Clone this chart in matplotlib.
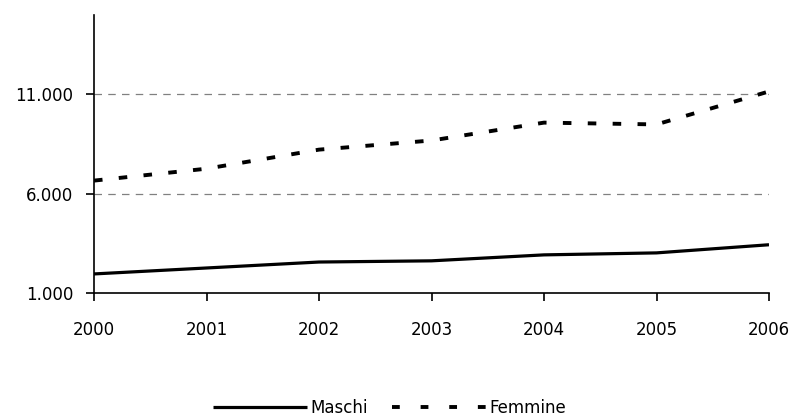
import numpy as np
import matplotlib.pyplot as plt

years = ["2000", "2001", "2002", "2003", "2004", "2005", "2006"]
maschi = [1960, 2260, 2560, 2620, 2920, 3020, 3430]
femmine = [6660, 7260, 8220, 8680, 9580, 9490, 11150]
y_ticks = [1000, 6000, 11000]
y_labels = ["1.000", "6.000", "11.000"]

plt.rcParams['font.family'] = ['DejaVu Sans']

fig = plt.figure(figsize=(7.95, 4.18), dpi=100)
ax = fig.add_axes([94 / 795, 1 - 293 / 418, (769 - 94) / 795, (293 - 15) / 418])

x = np.arange(len(years))
ax.plot(x, maschi, color="black", lw=2.3, solid_capstyle="butt", label="Maschi", zorder=3)
ax.plot(x, femmine, color="black", lw=2.8, linestyle=(0, (2.2, 4.2)),
        dash_capstyle="butt", label="Femmine", zorder=3)

# dashed gridlines
for v in y_ticks[1:]:
    ax.axhline(v, color="#808080", lw=0.9, linestyle=(0, (6, 5)), zorder=1)

ax.set_xlim(0, 6)
ax.set_ylim(1000, 15000)
ax.set_xticks(x)
ax.set_xticklabels(years)
ax.set_yticks(y_ticks)
ax.set_yticklabels(y_labels)

for s in ["top", "right"]:
    ax.spines[s].set_visible(False)
for s in ["left", "bottom"]:
    ax.spines[s].set_linewidth(1.2)

ax.tick_params(axis="x", direction="out", length=6, width=1.2, pad=14, labelsize=12)
ax.tick_params(axis="y", direction="out", length=6, width=1.2, pad=9, labelsize=12)

leg = fig.legend(loc="lower center", bbox_to_anchor=(0.49, -0.033), ncol=2, frameon=False,
                 fontsize=12, handlelength=5.6, handletextpad=0.2, columnspacing=1.5)
# make the legend dashes end right at the label
leg.get_lines()[1].set_linestyle((0, (2.0, 5.36)))

fig.savefig("out.png", dpi=100)
